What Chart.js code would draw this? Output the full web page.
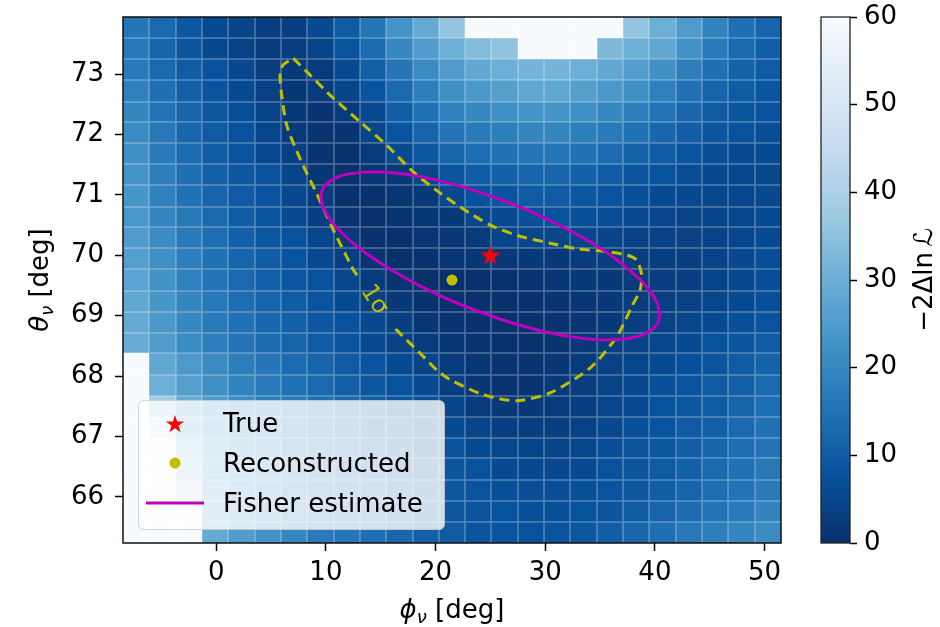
<!DOCTYPE html>
<html><head><meta charset="utf-8">
<script src="https://cdn.jsdelivr.net/npm/chart.js@4.4.1/dist/chart.umd.min.js"></script>
<style>
html,body{margin:0;padding:0;background:#fff;}
#wrap{position:relative;width:940px;height:627px;overflow:hidden;background:#fff;}
canvas{position:absolute;top:0;}
#main{left:0;}
#cb{left:790px;}
</style></head><body>
<div id="wrap"><canvas id="main" width="940" height="627"></canvas><canvas id="cb" width="150" height="627"></canvas></div>
<script>
// ---------------- data ----------------
const phiCenters = [-7.3,-4.9,-2.5,-0.1,2.3,4.7,7.1,9.5,11.9,14.3,16.7,19.1,21.5,23.9,26.3,28.7,31.1,33.5,35.9,38.3,40.7,43.1,45.5,47.9,50.3];
const thetaCenters = [73.77,73.42,73.07,72.72,72.37,72.03,71.68,71.33,70.98,70.63,70.29,69.94,69.59,69.24,68.89,68.55,68.20,67.85,67.50,67.15,66.81,66.46,66.11,65.76,65.41];
// -2 Delta ln L, one row per theta (top to bottom), one value per phi
const deltaChi2 = [
 [16,13,9,6,4.5,3,3.5,6,10,16,23,29,36,80,80,80,80,80,80,36,30,25,19,14.5,12],
 [16.5,12,8.5,5.5,4,2.5,3,4.5,8,13.5,20,25,30,33.5,35.5,80,80,80,33,30,28,22.5,17,13,10.5],
 [17,13,10,7.5,5.5,3,2.3,2.5,6,11,16,21,25,28.5,30,31.5,31.5,30,28.5,25.5,22,18,14.5,11.5,9.5],
 [18.5,14.5,11,8,6,4,1.5,2.6,4.5,8,13,18,22,24,26,28,28,26,24,22,18.5,15,12,10,8.5],
 [19.5,15.5,12,9,7,4.5,2,1,2.5,6,10.5,15,18.5,20,22,23,23,22,20,18,15.5,12.5,10,8.5,7.5],
 [21,16.5,12.5,9.5,7.5,5,2.3,1,1,4.5,8,12,15.5,17,18,19.5,19.5,18,17,15,12.5,10.5,8.5,7.5,6.5],
 [22,17,13.5,10,8,6,3.5,1,0.5,2.5,6,9,12.5,14,15,16,16,15,13.5,11.5,9.5,8,6.8,6,5.8],
 [23,18,14.5,11,9,7.5,4.5,1.5,0.3,1.2,2.3,5,8,10,11,12,12,11,10,8.5,7.5,6.5,5.5,5,5],
 [23.5,18.5,15,12,9.5,8,5.5,2.5,0.5,0.5,1.2,2.3,5.5,7.5,8.5,9.5,9.5,9,8,7,6,5.5,5,5,5.5],
 [24,19.5,16.5,13,10,8,6,3.5,1,0,1,1.5,2.3,5,6,7,7.5,7,6.5,5.8,5,4.5,4.5,5,5.8],
 [25,21,17,14,11,9,7.5,5,2,0.3,0.3,1.2,1.8,2.5,4.5,5,5,5,4.5,4,3.8,3.8,4.3,5,6],
 [26,22,18,15,12,10,8,6,3.5,1,0,0.5,1.5,1.6,1.8,2,2.3,2.8,3,3,3.3,3.5,4.3,5.5,6.5],
 [27,22.5,18.5,15.5,13,11,9,7.5,5,2.5,1,0,0,0.2,0.5,0.9,1.5,2,2.2,2.5,3,3.5,4.3,5.5,6.5],
 [28,23.5,19.5,16.5,14,12,10,8,6,4,2,0.5,0.3,0.1,0.2,0.5,1,1.5,2.2,2.8,3.5,4,5,6,7],
 [29,24,20,17,15,12.5,11,9,7.5,5.5,3.5,1.5,1,0.3,0.1,0.3,0.8,1.3,2.3,3,4,5,6,7,8],
 [29.5,25,21,18,15.5,13.5,12,10,8,6,4.2,2.5,1.5,0.8,0.4,0.4,0.8,1.8,3,4,5,6,7.5,8.5,9.5],
 [80,28,24.5,21,18,16,13.5,12,9.5,8,6,4.5,2.5,1.5,1,1,1.5,2.5,3.8,5,6,7,8.5,10,11.5],
 [80,30,26,22,19,17,15,13,11,9,7.5,5.8,3,1.5,1,1,2,3,4.5,5.5,7,8,9.5,11,13],
 [80,38,29,24.5,21,18.5,16.5,14.5,12.5,10.5,8.5,7,4.5,2.5,2.2,2.2,2.5,3.5,5,6,7.5,9,10,12,14],
 [80,48,32,26.5,22.5,20,17.5,15.5,13.5,11.5,9.5,8,6,4.5,3.5,3.2,3.4,4.2,5.5,7,8,9.5,11,13,15],
 [80,80,35,28,24,21,18.5,16.5,14.5,12.5,10.5,9,7.5,6,5,4.3,4.5,5,6.5,8,9,10.5,12,14,15.5],
 [80,80,39,29,25,22,19,17,15,13.5,11.5,10,8.5,7.5,6,5.5,5.5,6,7.5,8.5,9.5,11,13,15,16.5],
 [80,80,45,29.5,25.5,22.5,19.5,17,15.5,14,12,10.5,9,8,7,6.5,6.5,7,8,9,10.5,12,14,15.5,17],
 [80,80,80,29.5,25.5,22.5,19.5,17,16,14.5,12.5,11,9,8,7.5,7,7,7.5,8.5,10,12,13.5,15.5,17,19],
 [80,80,80,29,25.5,22.5,19.5,17,16,14.5,12.5,11,9.5,8.5,8,7.5,8,9,10.5,12.5,14.5,16.5,18,19.5,21]
];
const phiTicks = [0,10,20,30,40,50];
const thetaTicks = [66,67,68,69,70,71,72,73];
const cbTicks = [0,10,20,30,40,50,60];
const truePoint = {phi:25, theta:70};
const recoPoint = {phi:21.5, theta:69.59};
const fisherPhi = [40.45,40.22,39.52,38.38,36.84,34.93,32.73,30.28,27.68,25.00,22.32,19.72,17.28,15.07,13.17,11.62,10.48,9.79,9.55,9.79,10.48,11.62,13.17,15.07,17.28,19.72,22.32,25.00,27.68,30.28,32.73,34.93,36.84,38.38,39.52,40.22,40.45];
const fisherTheta = [69.02,69.20,69.42,69.64,69.88,70.13,70.36,70.59,70.80,70.98,71.14,71.26,71.34,71.38,71.37,71.33,71.24,71.12,70.96,70.78,70.57,70.34,70.10,69.86,69.62,69.39,69.18,69.00,68.84,68.72,68.64,68.60,68.61,68.65,68.74,68.86,69.02];
const contourPhi = [7.03,8.25,10.68,13.11,15.55,17.97,20.41,22.23,24.97,27.40,30.44,32.87,35.61,37.46,38.34,38.80,38.64,37.89,36.52,34.08,30.44,27.40,24.36,21.32,20.11,18.58,16.46,16.03,null,12.84,12.50,10.68,9.16,7.64,6.43,5.97,5.82,6.09,7.03];
const contourTheta = [73.26,73.04,72.60,72.21,71.82,71.38,71.03,70.80,70.50,70.33,70.20,70.11,70.06,70.00,69.92,69.67,69.42,69.15,68.65,68.13,67.72,67.59,67.69,67.94,68.10,68.38,68.76,68.85,null,69.67,69.76,70.42,71.02,71.60,72.15,72.65,73.01,73.15,73.26];
const contourLabel = {text:'1σ', phi:14.4, theta:69.26};
const phiRange = [-8.5, 51.5];
const thetaRange = [65.235, 73.945];
const cbRange = [0, 60];

// ---------------- style helpers ----------------
const FONT = "'DejaVu Sans', 'Liberation Sans', sans-serif";
const FS = 26;
const YEL = '#bfbf00', MAG = '#bf00bf', RED = '#ff0000';
const BLUES = [[247,251,255],[222,235,247],[198,219,239],[158,202,225],[107,174,214],[66,146,198],[33,113,181],[8,81,156],[8,48,107]];
function cmap(v){
  const t = Math.min(Math.max((v-cbRange[0])/(cbRange[1]-cbRange[0]),0),1);
  const s = (1-t)*8; const i = Math.min(Math.floor(s),7); const f = s-i;
  const a = BLUES[i], b = BLUES[i+1];
  return 'rgb(' + Math.round(a[0]+(b[0]-a[0])*f) + ',' + Math.round(a[1]+(b[1]-a[1])*f) + ',' + Math.round(a[2]+(b[2]-a[2])*f) + ')';
}
function edges(c){
  const e=[];
  for(let i=0;i<=c.length;i++){
    if(i===0) e.push(c[0]-(c[1]-c[0])/2);
    else if(i===c.length) e.push(c[i-1]+(c[i-1]-c[i-2])/2);
    else e.push((c[i-1]+c[i])/2);
  }
  return e;
}
function starPath(ctx,cx,cy,R){
  const r=R*0.381966; ctx.beginPath();
  for(let k=0;k<10;k++){
    const ang=-Math.PI/2+k*Math.PI/5, rad=(k%2===0)?R:r;
    const px=cx+rad*Math.cos(ang), py=cy+rad*Math.sin(ang);
    if(k===0) ctx.moveTo(px,py); else ctx.lineTo(px,py);
  }
  ctx.closePath();
}
const starImg = document.createElement('canvas'); starImg.width=24; starImg.height=24;
{ const sc=starImg.getContext('2d'); starPath(sc,12,12.8,9.6); sc.fillStyle=RED; sc.fill(); sc.strokeStyle=RED; sc.lineWidth=0.8; sc.stroke(); }

function drawMath(ctx, parts, cx, cy, rot){
  ctx.save(); ctx.translate(cx,cy); ctx.rotate(rot);
  ctx.textBaseline='alphabetic'; ctx.textAlign='left'; ctx.fillStyle='#000';
  let total=0; const w=[];
  for(const p of parts){ ctx.font=p.font; const m=ctx.measureText(p.t).width; w.push(m); total+=m; }
  let xx=-total/2;
  parts.forEach((p,i)=>{ ctx.font=p.font; ctx.fillText(p.t, xx, p.dy||0); xx+=w[i]; });
  ctx.restore();
}
function noPad(s){ s.paddingTop=0; s.paddingBottom=0; s.paddingLeft=0; s.paddingRight=0; }

Chart.defaults.font.family = FONT;
Chart.defaults.font.size = FS;
Chart.defaults.color = '#000';

// ---------------- plugins ----------------
const heatmapPlugin = {
  id:'heatmap',
  beforeDatasetsDraw(chart){
    const {ctx, chartArea:a} = chart; const xs=chart.scales.x, ys=chart.scales.y;
    const xp = edges(phiCenters).map(v=>Math.round(xs.getPixelForValue(v)));
    const yp = edges(thetaCenters).map(v=>Math.round(ys.getPixelForValue(v)));
    ctx.save();
    ctx.beginPath(); ctx.rect(a.left,a.top,a.right-a.left,a.bottom-a.top); ctx.clip();
    for(let r=0;r<thetaCenters.length;r++){
      for(let c=0;c<phiCenters.length;c++){
        ctx.fillStyle=cmap(deltaChi2[r][c]);
        ctx.fillRect(xp[c], yp[r], xp[c+1]-xp[c], yp[r+1]-yp[r]);
      }
    }
    ctx.strokeStyle='rgba(255,255,255,0.3)'; ctx.lineWidth=1.5;
    ctx.beginPath();
    for(const px of xp.slice(1,-1)){ ctx.moveTo(px,a.top); ctx.lineTo(px,a.bottom); }
    for(const py of yp.slice(1,-1)){ ctx.moveTo(a.left,py); ctx.lineTo(a.right,py); }
    ctx.stroke();
    ctx.restore();
  }
};

const decorPlugin = {
  id:'decor',
  afterDatasetsDraw(chart){
    const {ctx, chartArea:a} = chart; const xs=chart.scales.x, ys=chart.scales.y;
    // contour label
    ctx.save();
    ctx.translate(xs.getPixelForValue(contourLabel.phi), ys.getPixelForValue(contourLabel.theta));
    ctx.rotate(57*Math.PI/180);
    ctx.font = '24px ' + FONT; ctx.fillStyle=YEL; ctx.textAlign='center'; ctx.textBaseline='middle';
    ctx.fillText(contourLabel.text,0,0);
    ctx.restore();
    // frame
    ctx.save(); ctx.strokeStyle='#111'; ctx.lineWidth=1.5;
    ctx.strokeRect(a.left, a.top, a.right-a.left, a.bottom-a.top); ctx.restore();
    // legend
    const ds = chart.data.datasets;
    ctx.save();
    const Lx=138.5, Ly=400.5, Lw=306, Lh=129, Lr=6;
    ctx.beginPath();
    ctx.moveTo(Lx+Lr,Ly); ctx.lineTo(Lx+Lw-Lr,Ly); ctx.quadraticCurveTo(Lx+Lw,Ly,Lx+Lw,Ly+Lr);
    ctx.lineTo(Lx+Lw,Ly+Lh-Lr); ctx.quadraticCurveTo(Lx+Lw,Ly+Lh,Lx+Lw-Lr,Ly+Lh);
    ctx.lineTo(Lx+Lr,Ly+Lh); ctx.quadraticCurveTo(Lx,Ly+Lh,Lx,Ly+Lh-Lr);
    ctx.lineTo(Lx,Ly+Lr); ctx.quadraticCurveTo(Lx,Ly,Lx+Lr,Ly); ctx.closePath();
    ctx.fillStyle='rgba(255,255,255,0.8)'; ctx.fill();
    ctx.strokeStyle='rgba(204,204,204,0.8)'; ctx.lineWidth=1; ctx.stroke();
    starPath(ctx,175,424.5,9.6); ctx.fillStyle=RED; ctx.fill();
    ctx.beginPath(); ctx.arc(175,463,5.5,0,Math.PI*2); ctx.fillStyle=YEL; ctx.fill();
    ctx.beginPath(); ctx.moveTo(146,503); ctx.lineTo(204,503); ctx.strokeStyle=MAG; ctx.lineWidth=3; ctx.stroke();
    ctx.fillStyle='#000'; ctx.font=FS+'px '+FONT; ctx.textAlign='left'; ctx.textBaseline='alphabetic';
    ctx.fillText(ds[0].label,223,432);
    ctx.fillText(ds[1].label,223,472);
    ctx.fillText(ds[2].label,223,512);
    ctx.restore();
    // axis titles
    drawMath(ctx,[{t:'ϕ',font:'italic '+FS+'px '+FONT},{t:'ν',font:'italic 18px '+FONT,dy:5},{t:' [deg]',font:FS+'px '+FONT}],(a.left+a.right)/2,618,0);
    drawMath(ctx,[{t:'θ',font:'italic '+FS+'px '+FONT},{t:'ν',font:'italic 18px '+FONT,dy:5},{t:' [deg]',font:FS+'px '+FONT}],48,(a.top+a.bottom)/2,-Math.PI/2);
  }
};

const cbPlugin = {
  id:'cbar',
  beforeDatasetsDraw(chart){
    const {ctx, chartArea:a} = chart; const ys=chart.scales.y;
    ctx.save();
    const step=0.25;
    for(let v=cbRange[0]; v<cbRange[1]; v+=step){
      const y0=ys.getPixelForValue(v), y1=ys.getPixelForValue(v+step);
      ctx.fillStyle=cmap(v+step/2);
      ctx.fillRect(a.left, Math.floor(y1), a.right-a.left, Math.ceil(y0)-Math.floor(y1));
    }
    ctx.strokeStyle='#222'; ctx.lineWidth=1.3;
    ctx.strokeRect(a.left, a.top, a.right-a.left, a.bottom-a.top);
    ctx.restore();
    drawMath(ctx,[{t:'−2Δln\u2009ℒ',font:FS+'px '+FONT}],142,(a.top+a.bottom)/2,-Math.PI/2);
  }
};

// ---------------- charts ----------------
const tickFont = {family:FONT, size:FS};
new Chart(document.getElementById('main'), {
  type:'scatter',
  data:{datasets:[
    {label:'True', data:[{x:truePoint.phi,y:truePoint.theta}], pointStyle:starImg, pointRadius:9, order:0},
    {label:'Reconstructed', data:[{x:recoPoint.phi,y:recoPoint.theta}], pointStyle:'circle', pointRadius:5.5, backgroundColor:YEL, borderColor:YEL, borderWidth:0, order:1},
    {label:'Fisher estimate', data:fisherPhi.map((v,i)=>({x:v,y:fisherTheta[i]})), showLine:true, borderColor:MAG, borderWidth:3, pointRadius:0, tension:0.4, fill:false, order:2},
    {label:'1σ contour', data:contourPhi.map((v,i)=>({x:v,y:contourTheta[i]})), showLine:true, borderColor:YEL, borderWidth:3, borderDash:[10,6], pointRadius:0, tension:0.25, spanGaps:false, fill:false, order:3}
  ]},
  options:{
    animation:false, responsive:false, devicePixelRatio:1,
    layout:{autoPadding:false, padding:{left:0,right:159,top:17,bottom:0}},
    plugins:{legend:{display:false}, tooltip:{enabled:false}},
    events:[],
    scales:{
      x:{type:'linear', min:phiRange[0], max:phiRange[1],
         afterBuildTicks:s=>{s.ticks=phiTicks.map(v=>({value:v}));},
         afterFit:s=>{s.height=84; noPad(s);},
         ticks:{font:tickFont, color:'#000', padding:7, maxRotation:0, autoSkip:false, callback:v=>String(v)},
         grid:{drawOnChartArea:false, drawTicks:true, tickLength:8, tickWidth:1.5, tickColor:'#000'},
         border:{display:false}},
      y:{type:'linear', min:thetaRange[0], max:thetaRange[1],
         afterBuildTicks:s=>{s.ticks=thetaTicks.map(v=>({value:v}));},
         afterFit:s=>{s.width=123; noPad(s);},
         ticks:{font:tickFont, color:'#000', padding:11, autoSkip:false, callback:v=>String(v)},
         grid:{drawOnChartArea:false, drawTicks:true, tickLength:8, tickWidth:1.5, tickColor:'#000'},
         border:{display:false}}
    }
  },
  plugins:[heatmapPlugin, decorPlugin]
});

new Chart(document.getElementById('cb'), {
  type:'scatter',
  data:{datasets:[]},
  options:{
    animation:false, responsive:false, devicePixelRatio:1,
    layout:{autoPadding:false, padding:{left:31,right:0,top:17,bottom:84}},
    plugins:{legend:{display:false}, tooltip:{enabled:false}},
    events:[],
    scales:{
      x:{display:false, min:0, max:1, afterFit:s=>{noPad(s);}},
      y:{type:'linear', position:'right', min:cbRange[0], max:cbRange[1],
         afterBuildTicks:s=>{s.ticks=cbTicks.map(v=>({value:v}));},
         afterFit:s=>{s.width=90; noPad(s);},
         ticks:{font:tickFont, color:'#000', padding:7, autoSkip:false, callback:v=>String(v)},
         grid:{drawOnChartArea:false, drawTicks:true, tickLength:7, tickWidth:1.5, tickColor:'#000'},
         border:{display:false}}
    }
  },
  plugins:[cbPlugin]
});
</script></body></html>
